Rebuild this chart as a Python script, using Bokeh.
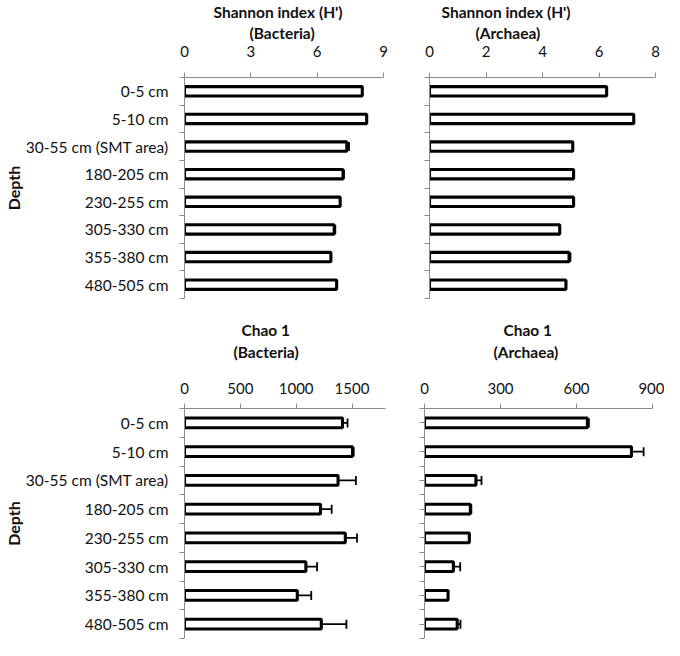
from bokeh.plotting import figure
from bokeh.models import FixedTicker, Title, Whisker, ColumnDataSource, TeeHead, Range1d
from bokeh.layouts import row, column
from bokeh.embed import file_html
from bokeh.resources import INLINE

# ---- data ----
depths = ["0-5 cm", "5-10 cm", "30-55 cm (SMT area)", "180-205 cm",
          "230-255 cm", "305-330 cm", "355-380 cm", "480-505 cm"]

shannon_bac = [8.04, 8.24, 7.34, 7.17, 7.04, 6.77, 6.62, 6.88]
shannon_bac_err = [0, 0, 0.10, 0.04, 0, 0.05, 0, 0]

shannon_arc = [6.27, 7.23, 5.07, 5.10, 5.10, 4.61, 4.94, 4.83]
shannon_arc_err = [0, 0, 0, 0, 0, 0, 0.05, 0]

chao_bac = [1415, 1505, 1375, 1218, 1440, 1087, 1010, 1225]
chao_bac_err = [45, 10, 160, 100, 105, 100, 125, 225]

chao_arc = [643, 817, 203, 181, 177, 114, 93, 129]
chao_arc_err = [6, 48, 22, 4, 0, 27, 0, 13]

ticks_sb = [0, 3, 6, 9]
ticks_sa = [0, 2, 4, 6, 8]
ticks_cb = [0, 500, 1000, 1500]
ticks_ca = [0, 300, 600, 900]

FONT = "Lato"
GRAY = "#8a8a8a"
TXT = "#111111"


def panel(vals, errs, xmax, xticks, t1, t2, width, height, bl, br, bt, bb,
          labels, center_ticks, off1, off2, s1, s2, spacer, xstand):
    n = len(depths)
    ypos = [n - i - 0.5 for i in range(n)]
    p = figure(width=width, height=height, x_range=Range1d(0, xmax),
               y_range=Range1d(0, n), x_axis_location="above",
               toolbar_location=None, output_backend="svg",
               min_border_left=bl, min_border_right=br,
               min_border_top=bt, min_border_bottom=bb)
    p.title = None
    p.outline_line_color = None
    p.xgrid.visible = False
    p.ygrid.visible = False

    src = ColumnDataSource(dict(y=ypos, v=vals))
    p.hbar(y="y", left=0, right="v", height=0.34, fill_color="white",
           line_color="black", line_width=3.1, source=src)

    ey = [ypos[i] for i in range(n) if errs[i] > 0]
    lo = [vals[i] - errs[i] for i in range(n) if errs[i] > 0]
    hi = [vals[i] + errs[i] for i in range(n) if errs[i] > 0]
    esrc = ColumnDataSource(dict(y=ey, lo=lo, hi=hi))
    w = Whisker(source=esrc, base="y", lower="lo", upper="hi", dimension="width",
                line_color="black", line_width=1.8,
                upper_head=TeeHead(size=9, line_color="black", line_width=1.8),
                lower_head=TeeHead(size=9, line_color="black", line_width=1.8))
    p.add_layout(w)

    xa = p.xaxis[0]
    xa.ticker = FixedTicker(ticks=xticks)
    xa.axis_line_color = GRAY
    xa.major_tick_line_color = GRAY
    xa.major_tick_out = 5
    xa.major_tick_in = 0
    xa.minor_tick_line_color = None
    xa.major_label_text_font = FONT
    xa.major_label_text_font_size = "15px"
    xa.major_label_text_color = TXT
    xa.major_label_standoff = xstand
    if spacer:
        xa.axis_label = " "
        xa.axis_label_text_font_size = "10px"
        xa.axis_label_standoff = spacer

    ya = p.yaxis[0]
    ya.ticker = FixedTicker(ticks=ypos, minor_ticks=list(range(n + 1)))
    ya.axis_line_color = GRAY
    ya.minor_tick_line_color = GRAY
    ya.minor_tick_out = 5
    ya.minor_tick_in = 0
    ya.major_label_text_font = FONT
    ya.major_label_text_color = TXT
    if labels:
        ya.major_label_overrides = {ypos[i]: depths[i] for i in range(n)}
        ya.major_tick_line_color = None
        ya.major_tick_out = 0
        ya.major_tick_in = 0
        ya.major_label_standoff = 11
        ya.major_label_text_font_size = "15.5px"
        ya.axis_label = "Depth"
        ya.axis_label_text_font = FONT
        ya.axis_label_text_font_style = "bold"
        ya.axis_label_text_font_size = "16px"
        ya.axis_label_text_color = TXT
        ya.axis_label_standoff = 0
    else:
        ya.major_label_overrides = {ypos[i]: "" for i in range(n)}
        ya.major_label_text_font_size = "0px"
        ya.major_label_standoff = 0
        if center_ticks:
            ya.major_tick_line_color = GRAY
            ya.major_tick_out = 5
            ya.major_tick_in = 0
        else:
            ya.major_tick_line_color = None
            ya.major_tick_out = 0
            ya.major_tick_in = 0

    p.add_layout(Title(text=t2, align="left", offset=off2, standoff=s1,
                       text_font=FONT, text_font_style="bold",
                       text_font_size="15.5px", text_color=TXT), "above")
    p.add_layout(Title(text=t1, align="left", offset=off1, standoff=s2,
                       text_font=FONT, text_font_style="bold",
                       text_font_size="15.5px", text_color=TXT), "above")
    return p


W1, W2 = 400, 264
H1, H2 = 304, 336

tl = panel(shannon_bac, shannon_bac_err, 9, ticks_sb, "Shannon index (H')", "(Bacteria)",
           W1, H1, 183, 17, 75, 6, True, False, 29, 65, 2, 0, 0, 16)
tr = panel(shannon_arc, shannon_arc_err, 8, ticks_sa, "Shannon index (H')", "(Archaea)",
           W2, H1, 29, 9, 75, 6, False, False, 12, 46, 2, 0, 0, 16)
bl = panel(chao_bac, chao_bac_err, 1800, ticks_cb, "Chao 1", "(Bacteria)",
           W1, H2, 183, 15, 104, 2, True, False, 57, 49, 2, 2, 4, 10)
br = panel(chao_arc, chao_arc_err, 900, ticks_ca, "Chao 1", "(Archaea)",
           W2, H2, 24, 12, 104, 2, False, True, 79, 69, 2, 2, 4, 10)

layout = column(row(tl, tr), row(bl, br))

open("out.html", "w").write(file_html(layout, INLINE))
